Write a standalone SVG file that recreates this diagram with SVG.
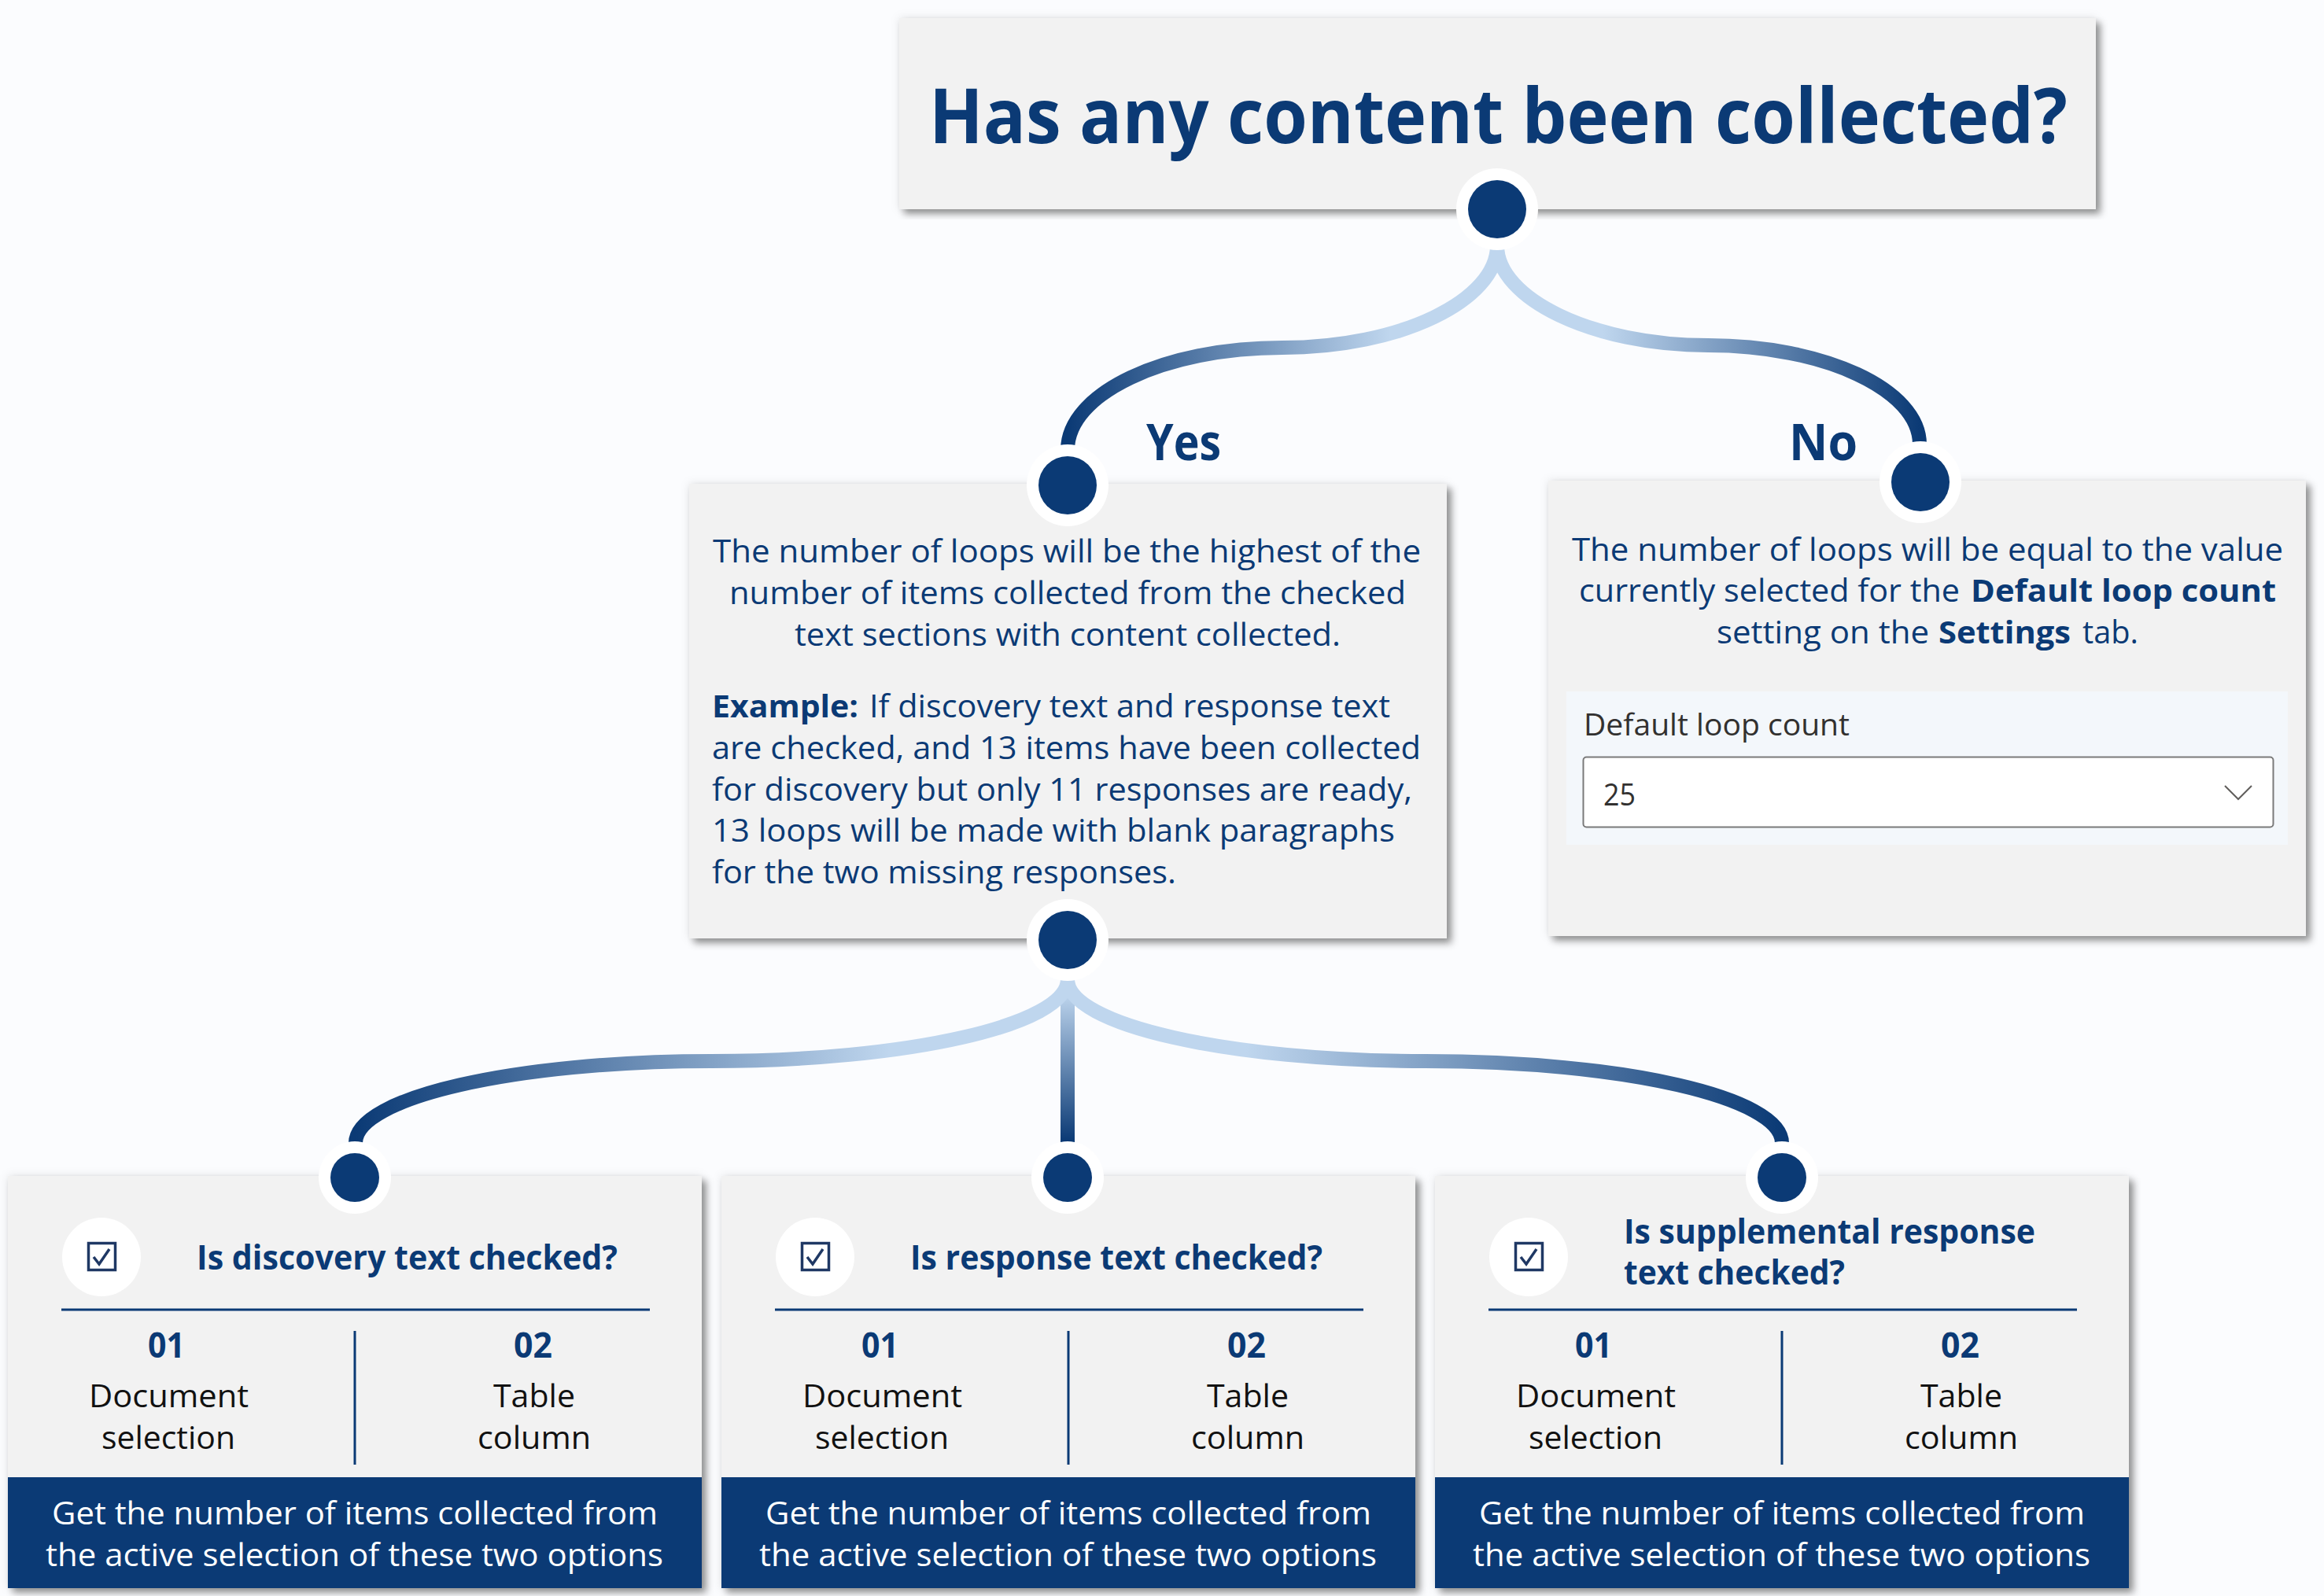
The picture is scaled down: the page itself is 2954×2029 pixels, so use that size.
<svg xmlns="http://www.w3.org/2000/svg" width="2954" height="2029" viewBox="0 0 2954 2029">
<style>
text{font-family:"Open Sans","Noto Sans","Liberation Sans",sans-serif}
.box{fill:#f2f2f2;filter:url(#sh)}
.navy{fill:#0b3a75}
.b{font-weight:700}
.body{font-size:40px;fill:#0b3a75}
.lbl{font-size:65px;font-weight:700;fill:#0b3a75}
.head{font-size:43px;font-weight:700;fill:#0b3a75}
.num{font-size:44px;font-weight:700;fill:#0b3a75}
.blk{font-size:41px;fill:#111}
.wht{font-size:41px;fill:#fff}
.ring{fill:#fff}
.dot{fill:#0b3a75}
.rule{stroke:#0b3a75;stroke-width:3;fill:none}
.edge{fill:none;stroke-width:18}
</style>
<defs>
<filter id="sh" x="-5%" y="-5%" width="110%" height="110%">
<feDropShadow dx="0" dy="0" stdDeviation="6" flood-color="#000" flood-opacity="0.1" result="a"/>
<feDropShadow in="SourceGraphic" dx="6" dy="6" stdDeviation="5" flood-color="#000" flood-opacity="0.4" result="b"/>
<feMerge><feMergeNode in="a"/><feMergeNode in="b"/></feMerge>
</filter>
<linearGradient id="gL1" gradientUnits="userSpaceOnUse" x1="1357" y1="0" x2="1903" y2="0"><stop offset="0" stop-color="#0b3a75"/><stop offset="0.75" stop-color="#bfd6ee"/></linearGradient>
<linearGradient id="gR1" gradientUnits="userSpaceOnUse" x1="2440" y1="0" x2="1903" y2="0"><stop offset="0" stop-color="#0b3a75"/><stop offset="0.75" stop-color="#bfd6ee"/></linearGradient>
<linearGradient id="gL2" gradientUnits="userSpaceOnUse" x1="452" y1="0" x2="1357" y2="0"><stop offset="0" stop-color="#0b3a75"/><stop offset="0.75" stop-color="#bfd6ee"/></linearGradient>
<linearGradient id="gR2" gradientUnits="userSpaceOnUse" x1="2265" y1="0" x2="1357" y2="0"><stop offset="0" stop-color="#0b3a75"/><stop offset="0.75" stop-color="#bfd6ee"/></linearGradient>
<linearGradient id="gV" gradientUnits="userSpaceOnUse" x1="0" y1="1450" x2="0" y2="1262"><stop offset="0" stop-color="#0b3a75"/><stop offset="1" stop-color="#bfd6ee"/></linearGradient>
</defs>
<rect width="2954" height="2029" fill="#fbfcfe"/>

<g id="node-question">
<rect class="box" x="1143" y="23" width="1521" height="243"/>
<text x="1181" y="182" font-size="97" font-weight="700" fill="#0b3a75" textLength="1447" lengthAdjust="spacingAndGlyphs">Has any content been collected?</text>
</g>

<g id="node-yes">
<rect class="box" x="876" y="615" width="963" height="578"/>
<text class="body" x="906" y="715" textLength="900" lengthAdjust="spacingAndGlyphs">The number of loops will be the highest of the</text>
<text class="body" x="927" y="768" textLength="860" lengthAdjust="spacingAndGlyphs">number of items collected from the checked</text>
<text class="body" x="1010" y="821" textLength="694" lengthAdjust="spacingAndGlyphs">text sections with content collected.</text>
<text class="body" y="912"><tspan class="b" x="905" textLength="186" lengthAdjust="spacingAndGlyphs">Example:</tspan> <tspan x="1105" textLength="662" lengthAdjust="spacingAndGlyphs">If discovery text and response text</tspan></text>
<text class="body" x="905" y="965" textLength="901" lengthAdjust="spacingAndGlyphs">are checked, and 13 items have been collected</text>
<text class="body" x="905" y="1018" textLength="890" lengthAdjust="spacingAndGlyphs">for discovery but only 11 responses are ready,</text>
<text class="body" x="905" y="1070" textLength="868" lengthAdjust="spacingAndGlyphs">13 loops will be made with blank paragraphs</text>
<text class="body" x="905" y="1123" textLength="590" lengthAdjust="spacingAndGlyphs">for the two missing responses.</text>
</g>

<g id="node-no">
<rect class="box" x="1968" y="611" width="963" height="579"/>
<text class="body" x="1998" y="713" textLength="904" lengthAdjust="spacingAndGlyphs">The number of loops will be equal to the value</text>
<text class="body" y="765"><tspan x="2007" textLength="484" lengthAdjust="spacingAndGlyphs">currently selected for the</tspan> <tspan class="b" x="2505" textLength="388" lengthAdjust="spacingAndGlyphs">Default loop count</tspan></text>
<text class="body" y="818"><tspan x="2182" textLength="270" lengthAdjust="spacingAndGlyphs">setting on the</tspan> <tspan class="b" x="2464" textLength="168" lengthAdjust="spacingAndGlyphs">Settings</tspan> <tspan x="2647" textLength="71" lengthAdjust="spacingAndGlyphs">tab.</tspan></text>
<rect x="1991" y="879" width="917" height="195" fill="#f3f7fb"/>
<text x="2013" y="935" font-size="39" fill="#323130" textLength="338" lengthAdjust="spacingAndGlyphs">Default loop count</text>
<rect x="2012.5" y="962.5" width="877" height="89" rx="4" fill="#fff" stroke="#7a7a7a" stroke-width="2"/>
<text x="2038" y="1024" font-size="39" fill="#323130" textLength="41" lengthAdjust="spacingAndGlyphs">25</text>
<path d="M2828 999L2845 1016L2862 999" fill="none" stroke="#605e5c" stroke-width="2"/>
</g>

<g id="node-discovery">
<rect class="box" x="10" y="1495" width="882" height="524"/>
<rect class="navy" x="10" y="1878" width="882" height="141"/>
<circle class="ring" cx="129" cy="1598" r="50"/>
<rect x="112.500" y="1580.500" width="34" height="34" fill="none" stroke="#1f3864" stroke-width="3.500"/>
<path d="M119 1598L126 1607L139 1588" fill="none" stroke="#1f3864" stroke-width="3.500"/>
<text class="head" x="250" y="1614" textLength="535" lengthAdjust="spacingAndGlyphs">Is discovery text checked?</text>
<path class="rule" d="M78 1665H826M451 1692V1862"/>
<text class="num" x="188" y="1726" textLength="47" lengthAdjust="spacingAndGlyphs">01</text>
<text class="num" x="653" y="1726" textLength="49" lengthAdjust="spacingAndGlyphs">02</text>
<text class="blk" x="113" y="1789" textLength="203" lengthAdjust="spacingAndGlyphs">Document</text>
<text class="blk" x="129" y="1842" textLength="170" lengthAdjust="spacingAndGlyphs">selection</text>
<text class="blk" x="627" y="1789" textLength="104" lengthAdjust="spacingAndGlyphs">Table</text>
<text class="blk" x="607" y="1842" textLength="144" lengthAdjust="spacingAndGlyphs">column</text>
<text class="wht" x="66" y="1938" textLength="770" lengthAdjust="spacingAndGlyphs">Get the number of items collected from</text>
<text class="wht" x="58" y="1991" textLength="785" lengthAdjust="spacingAndGlyphs">the active selection of these two options</text>
</g>

<g id="node-response" transform="translate(907 0)">
<rect class="box" x="10" y="1495" width="882" height="524"/>
<rect class="navy" x="10" y="1878" width="882" height="141"/>
<circle class="ring" cx="129" cy="1598" r="50"/>
<rect x="112.500" y="1580.500" width="34" height="34" fill="none" stroke="#1f3864" stroke-width="3.500"/>
<path d="M119 1598L126 1607L139 1588" fill="none" stroke="#1f3864" stroke-width="3.500"/>
<text class="head" x="250" y="1614" textLength="524" lengthAdjust="spacingAndGlyphs">Is response text checked?</text>
<path class="rule" d="M78 1665H826M451 1692V1862"/>
<text class="num" x="188" y="1726" textLength="47" lengthAdjust="spacingAndGlyphs">01</text>
<text class="num" x="653" y="1726" textLength="49" lengthAdjust="spacingAndGlyphs">02</text>
<text class="blk" x="113" y="1789" textLength="203" lengthAdjust="spacingAndGlyphs">Document</text>
<text class="blk" x="129" y="1842" textLength="170" lengthAdjust="spacingAndGlyphs">selection</text>
<text class="blk" x="627" y="1789" textLength="104" lengthAdjust="spacingAndGlyphs">Table</text>
<text class="blk" x="607" y="1842" textLength="144" lengthAdjust="spacingAndGlyphs">column</text>
<text class="wht" x="66" y="1938" textLength="770" lengthAdjust="spacingAndGlyphs">Get the number of items collected from</text>
<text class="wht" x="58" y="1991" textLength="785" lengthAdjust="spacingAndGlyphs">the active selection of these two options</text>
</g>

<g id="node-supplemental" transform="translate(1814 0)">
<rect class="box" x="10" y="1495" width="882" height="524"/>
<rect class="navy" x="10" y="1878" width="882" height="141"/>
<circle class="ring" cx="129" cy="1598" r="50"/>
<rect x="112.500" y="1580.500" width="34" height="34" fill="none" stroke="#1f3864" stroke-width="3.500"/>
<path d="M119 1598L126 1607L139 1588" fill="none" stroke="#1f3864" stroke-width="3.500"/>
<text class="head" x="250" y="1581" textLength="523" lengthAdjust="spacingAndGlyphs">Is supplemental response</text>
<text class="head" x="250" y="1633" textLength="281" lengthAdjust="spacingAndGlyphs">text checked?</text>
<path class="rule" d="M78 1665H826M451 1692V1862"/>
<text class="num" x="188" y="1726" textLength="47" lengthAdjust="spacingAndGlyphs">01</text>
<text class="num" x="653" y="1726" textLength="49" lengthAdjust="spacingAndGlyphs">02</text>
<text class="blk" x="113" y="1789" textLength="203" lengthAdjust="spacingAndGlyphs">Document</text>
<text class="blk" x="129" y="1842" textLength="170" lengthAdjust="spacingAndGlyphs">selection</text>
<text class="blk" x="627" y="1789" textLength="104" lengthAdjust="spacingAndGlyphs">Table</text>
<text class="blk" x="607" y="1842" textLength="144" lengthAdjust="spacingAndGlyphs">column</text>
<text class="wht" x="66" y="1938" textLength="770" lengthAdjust="spacingAndGlyphs">Get the number of items collected from</text>
<text class="wht" x="58" y="1991" textLength="785" lengthAdjust="spacingAndGlyphs">the active selection of these two options</text>
</g>

<g id="connectors">
<path class="edge" stroke="url(#gL1)" d="M1903 312C1903 382 1780 442 1630 442C1480 442 1357 500 1357 572"/>
<path class="edge" stroke="url(#gR1)" d="M1903 312C1903 380 2025 439 2171 439C2318 439 2440 495 2440 565"/>
<path class="edge" stroke="url(#gV)" d="M1357 1250V1452"/>
<path class="edge" stroke="url(#gL2)" d="M1357 1245C1357 1303 1153 1349 904 1349C655 1349 452 1395 452 1453"/>
<path class="edge" stroke="url(#gR2)" d="M1357 1245C1357 1303 1562 1349 1812 1349C2063 1349 2265 1395 2265 1453"/>
</g>

<g id="label-yes"><text class="lbl" x="1457" y="585" textLength="95" lengthAdjust="spacingAndGlyphs">Yes</text></g>
<g id="label-no"><text class="lbl" x="2274" y="585" textLength="87" lengthAdjust="spacingAndGlyphs">No</text></g>

<g id="dot-question"><circle class="ring" cx="1903" cy="266" r="52"/><circle class="dot" cx="1903" cy="266" r="37"/></g>
<g id="dot-yes"><circle class="ring" cx="1357" cy="617" r="52"/><circle class="dot" cx="1357" cy="617" r="37"/></g>
<g id="dot-no"><circle class="ring" cx="2441" cy="613" r="52"/><circle class="dot" cx="2441" cy="613" r="37"/></g>
<g id="dot-loops"><circle class="ring" cx="1357" cy="1195" r="52"/><circle class="dot" cx="1357" cy="1195" r="37"/></g>
<g id="dot-discovery"><circle class="ring" cx="451" cy="1497" r="46"/><circle class="dot" cx="451" cy="1497" r="31"/></g>
<g id="dot-response"><circle class="ring" cx="1357" cy="1497" r="46"/><circle class="dot" cx="1357" cy="1497" r="31"/></g>
<g id="dot-supplemental"><circle class="ring" cx="2265" cy="1497" r="46"/><circle class="dot" cx="2265" cy="1497" r="31"/></g>
</svg>
